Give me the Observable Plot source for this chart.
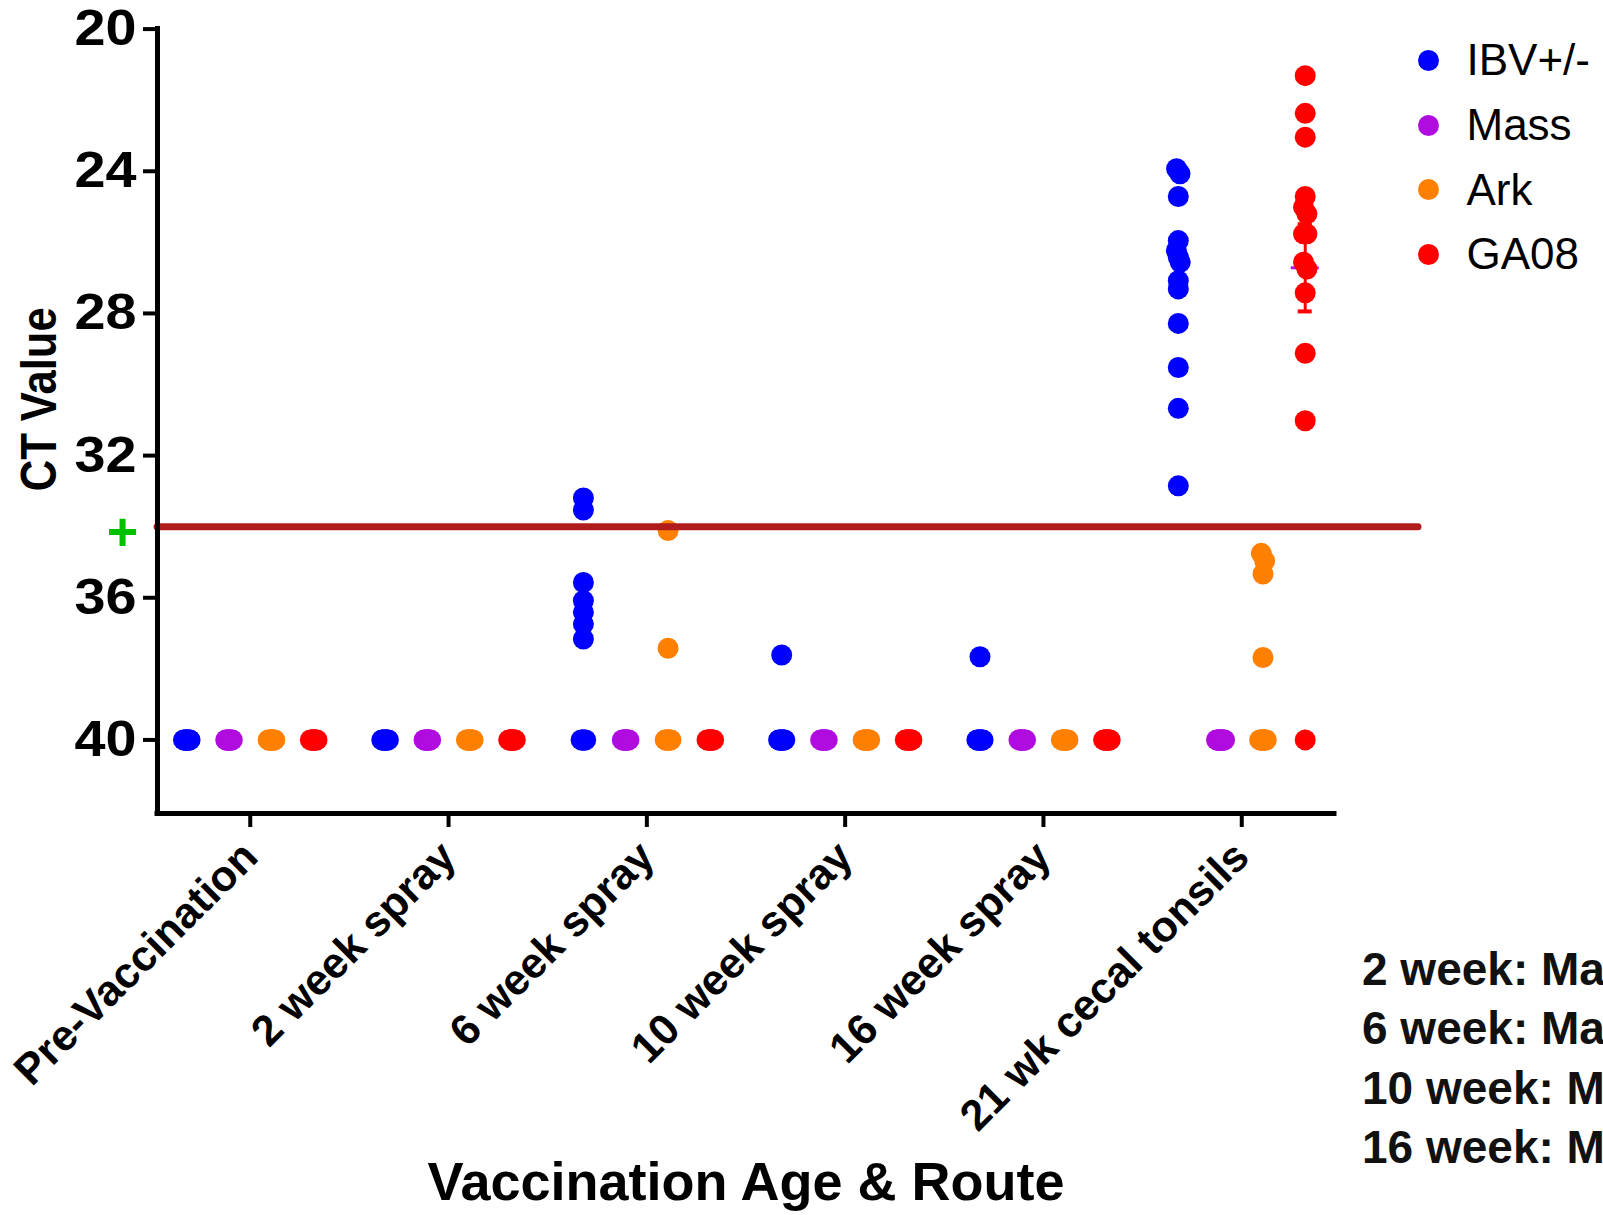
<!DOCTYPE html>
<html>
<head>
<meta charset="utf-8">
<script src="https://cdn.jsdelivr.net/npm/d3@7"></script>
<script src="https://cdn.jsdelivr.net/npm/@observablehq/plot@0.6"></script>
<style>
  html, body { margin: 0; padding: 0; background: #fff; overflow: hidden; }
  #wrap { position: relative; width: 1603px; height: 1215px; overflow: hidden; font-family: "Liberation Sans", Arial, sans-serif; }
  #chart { position: absolute; left: 0; top: 0; }
  .lg { position: absolute; display: flex; align-items: center; height: 44px; font-size: 44px; line-height: 44px; color: #000; white-space: nowrap; }
  .lg .dot { width: 21px; height: 21px; border-radius: 50%; margin-right: 28px; flex: none; }
  #notes { position: absolute; left: 1362px; top: 940px; font-size: 46px; line-height: 59.3px; font-weight: bold; color: #111; white-space: nowrap; }
</style>
</head>
<body>
<div id="wrap">
  <div id="chart"></div>
  <div id="legend"></div>
  <div id="notes"></div>
</div>
<script>
// ---------------- data ----------------
const categories = ["Pre-Vaccination", "2 week spray", "6 week spray", "10 week spray", "16 week spray", "21 wk cecal tonsils"];
const seriesNames = ["IBV+/-", "Mass", "Ark", "GA08"];
const seriesColors = ["#0000ff", "#b00ce0", "#ff8000", "#ff0000"];

// CT values per category (one inner array per category)
const ibvValues = [
  [40, 40, 40, 40, 40, 40, 40, 40, 40, 40],
  [40, 40, 40, 40, 40, 40, 40, 40, 40, 40],
  [33.19, 33.53, 35.57, 36.08, 36.41, 36.74, 37.16, 40, 40, 40, 40, 40],
  [37.61, 40, 40, 40, 40, 40, 40, 40, 40, 40],
  [37.66, 40, 40, 40, 40, 40, 40, 40, 40, 40],
  [23.93, 24.07, 24.71, 25.95, 26.23, 26.42, 26.56, 27.08, 27.31, 28.28, 29.52, 30.67, 32.85]
];
const massValues = [
  [40, 40, 40, 40, 40, 40, 40, 40, 40, 40],
  [40, 40, 40, 40, 40, 40, 40, 40, 40, 40],
  [40, 40, 40, 40, 40, 40, 40, 40, 40, 40],
  [40, 40, 40, 40, 40, 40, 40, 40, 40, 40],
  [40, 40, 40, 40, 40, 40, 40, 40, 40, 40],
  [40, 40, 40, 40, 40, 40, 40, 40, 40, 40, 40, 40, 40, 40]
];
const arkValues = [
  [40, 40, 40, 40, 40, 40, 40, 40, 40, 40],
  [40, 40, 40, 40, 40, 40, 40, 40, 40, 40],
  [34.11, 37.42, 40, 40, 40, 40, 40, 40, 40, 40],
  [40, 40, 40, 40, 40, 40, 40, 40, 40, 40],
  [40, 40, 40, 40, 40, 40, 40, 40, 40, 40],
  [34.75, 34.96, 35.33, 37.68, 40, 40, 40, 40, 40, 40, 40, 40, 40, 40]
];
const ga08Values = [
  [40, 40, 40, 40, 40, 40, 40, 40, 40, 40],
  [40, 40, 40, 40, 40, 40, 40, 40, 40, 40],
  [40, 40, 40, 40, 40, 40, 40, 40, 40, 40],
  [40, 40, 40, 40, 40, 40, 40, 40, 40, 40],
  [40, 40, 40, 40, 40, 40, 40, 40, 40, 40],
  [21.31, 22.37, 23.04, 24.71, 25.01, 25.20, 25.76, 25.76, 26.56, 26.75, 27.42, 29.12, 31.02, 40]
];
const cutoffValue = 34;
const yTicks = [20, 24, 28, 32, 36, 40];
const noteLines = ["2 week: Mass + Ark spray", "6 week: Mass + Ark spray", "10 week: Mass + Ark spray", "16 week: Mass + Ark spray"];

// ---------------- layout ----------------
const W = 1603, H = 1215;
const mL = 157, mR = 269, mT = 28.6, mB = H - 813;
const X0 = -0.4677, X1 = categories.length - 1 + 0.4677;
const YTOP = 20, YBOT = 42.07;
const unitsPerPx = (X1 - X0) / (W - mL - mR);
const seriesOffset = [-0.32, -0.107, 0.107, 0.32];
const lineEnd = X0 + (1418 - mL) * unitsPerPx; // cutoff line extends past axis

const allSeries = [ibvValues, massValues, arkValues, ga08Values];
const points = [];
allSeries.forEach((arr, s) => {
  arr.forEach((vals, c) => {
    const sorted = vals.slice().sort((a, b) => a - b);
    const clusters = [];
    let cur = [];
    for (const v of sorted) {
      if (cur.length && v - cur[cur.length - 1] > 0.22) { clusters.push(cur); cur = []; }
      cur.push(v);
    }
    if (cur.length) clusters.push(cur);
    for (const cl of clusters) {
      const n = cl.length;
      const hw = n > 1 ? Math.min(4, 1.5 + 0.2 * (n - 1)) : 0;
      cl.forEach((v, k) => {
        const off = n > 1 ? -hw + 2 * hw * k / (n - 1) : 0;
        points.push({ series: seriesNames[s], category: categories[c], value: v, x: c + seriesOffset[s] + off * unitsPerPx });
      });
    }
  });
});

// mean ± SEM for GA08 at 21 wk
const gaLast = ga08Values[ga08Values.length - 1];
const gaMean = d3.mean(gaLast);
const gaSem = d3.deviation(gaLast) / Math.sqrt(gaLast.length);
const stats = [{ x: categories.length - 1 + seriesOffset[3], mean: gaMean, sem: gaSem }];

const plot = Plot.plot({
  width: W, height: H,
  marginLeft: mL, marginRight: mR, marginTop: mT, marginBottom: mB,
  style: { fontFamily: "Liberation Sans, Arial, sans-serif", fontWeight: "bold", color: "#000", background: "transparent" },
  x: { type: "linear", domain: [X0, X1] },
  y: { domain: [YTOP, YBOT], reverse: true },
  color: { domain: seriesNames, range: seriesColors },
  marks: [
    Plot.ruleY(stats, { y: "mean", x1: d => d.x - 14 * unitsPerPx, x2: d => d.x + 14 * unitsPerPx, stroke: "#a81ce8", strokeWidth: 3 }),
    Plot.ruleX(stats, { x: "x", y1: d => d.mean - d.sem, y2: d => d.mean + d.sem, stroke: "#ff0000", strokeWidth: 3 }),
    Plot.ruleY(stats, { y: d => d.mean + d.sem, x1: d => d.x - 7 * unitsPerPx, x2: d => d.x + 7 * unitsPerPx, stroke: "#ff0000", strokeWidth: 4 }),
    Plot.ruleY(stats, { y: d => d.mean - d.sem, x1: d => d.x - 7 * unitsPerPx, x2: d => d.x + 7 * unitsPerPx, stroke: "#ff0000", strokeWidth: 4 }),
    Plot.dot(points, { x: "x", y: "value", fill: "series", r: 10.5 }),
    Plot.ruleY([cutoffValue], { x1: X0, x2: lineEnd, stroke: "#b01c1c", strokeWidth: 7, strokeLinecap: "round" }),
    Plot.text(["+"], { x: X0, y: cutoffValue, text: d => d, dx: -35, dy: 6, fill: "#00c000", fontSize: 54, fontWeight: "bold" }),
    Plot.ruleX([X0], { y1: YTOP, y2: YBOT, stroke: "#000", strokeWidth: 5, strokeLinecap: "square" }),
    Plot.ruleY([YBOT], { x1: X0, x2: X1, stroke: "#000", strokeWidth: 5, strokeLinecap: "square" }),
    Plot.axisY({ ticks: yTicks, tickSize: 14, tickPadding: 7, fontSize: 50, strokeWidth: 4, label: null, tickFormat: d => String(d) }),
    Plot.axisX({ ticks: d3.range(categories.length), tickFormat: i => categories[i], tickRotate: -45, tickSize: 14, tickPadding: 22, fontSize: 43, strokeWidth: 4, label: null }),
    Plot.text(["CT Value"], { frameAnchor: "left", text: d => d, rotate: -90, dx: -118, dy: 70, fontSize: 50, fontWeight: "bold" }),
    Plot.text(["Vaccination Age & Route"], { frameAnchor: "bottom", text: d => d, dy: 386, fontSize: 54, fontWeight: "bold" })
  ]
});
document.getElementById("chart").appendChild(plot);

// stretch heavy labels to match reference proportions
plot.querySelectorAll('g[aria-label="y-axis tick label"] text').forEach(t => {
  t.setAttribute("textLength", 62);
  t.setAttribute("lengthAdjust", "spacingAndGlyphs");
});
plot.querySelectorAll("text").forEach(t => {
  if (t.textContent === "CT Value") {
    t.setAttribute("textLength", 184);
    t.setAttribute("lengthAdjust", "spacingAndGlyphs");
  }
});

// legend
const legendCenters = [60, 125, 189.5, 254];
const legend = document.getElementById("legend");
seriesNames.forEach((name, i) => {
  const row = document.createElement("div");
  row.className = "lg";
  row.style.left = (1428 - 10.5) + "px";
  row.style.top = (legendCenters[i] - 22) + "px";
  const dot = document.createElement("span");
  dot.className = "dot";
  dot.style.background = seriesColors[i];
  row.appendChild(dot);
  row.appendChild(document.createTextNode(name));
  legend.appendChild(row);
});

// notes (clipped at right edge as in reference)
const notes = document.getElementById("notes");
noteLines.forEach(s => {
  const d = document.createElement("div");
  d.textContent = s;
  notes.appendChild(d);
});
</script>
</body>
</html>
